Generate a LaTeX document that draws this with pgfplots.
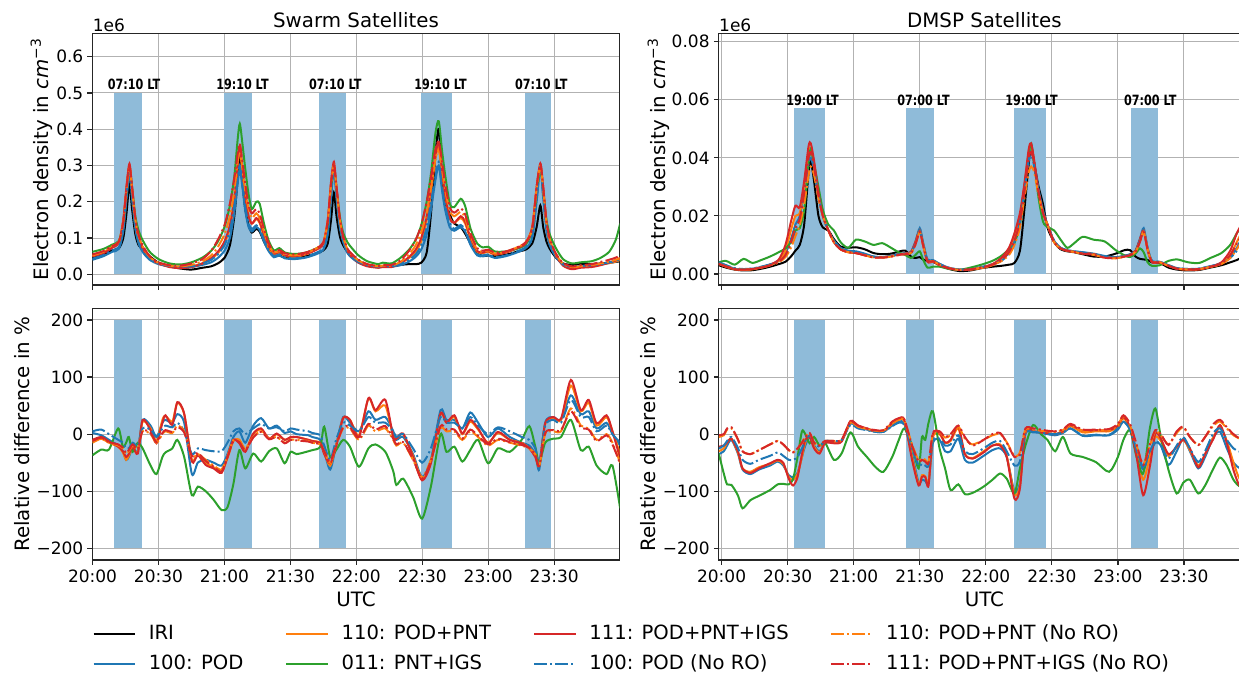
\documentclass[border=0pt]{standalone}
\usepackage{fontspec}
\setmainfont{DejaVu Sans}
\usepackage{graphicx}
\usepackage{pgfplots}
\usepackage{pgfplotstable}
\pgfplotsset{compat=1.18}
\definecolor{c0}{HTML}{1F77B4}
\definecolor{c1}{HTML}{FF7F0E}
\definecolor{c2}{HTML}{2CA02C}
\definecolor{c3}{HTML}{D62728}
\definecolor{barc}{HTML}{8FBBD9}
\tikzset{
  dd/.style={dash pattern=on 6.4pt off 1.6pt on 1pt off 1.6pt},
  ciri/.style={black, line width=1pt},
  cpod/.style={c0, line width=1pt},
  cpp/.style={c1, line width=1pt},
  cpi/.style={c2, line width=1pt},
  cppi/.style={c3, line width=1pt},
  cpodn/.style={c0, line width=1pt, dd},
  cppn/.style={c1, line width=1pt, dd},
  cppin/.style={c3, line width=1pt, dd},
  lt/.style={font=\fontsize{7.07}{8}\selectfont\bfseries, anchor=base, inner sep=0pt, yshift=1.7pt},
  offs/.style={anchor=base west, inner sep=0pt, yshift=0.9pt, font=\fontsize{8.5}{10}\selectfont},
}

\pgfplotstableread{
t     iri    pod    pp     pi     ppi    podn   ppn    ppin
0     0.045  0.040  0.050  0.062  0.050  0.043  0.052  0.055
5     0.056  0.050  0.060  0.070  0.058  0.053  0.062  0.064
9     0.066  0.062  0.078  0.082  0.073  0.066  0.078  0.078
12    0.072  0.070  0.090  0.092  0.088  0.074  0.090  0.090
14    0.100  0.120  0.150  0.140  0.150  0.125  0.145  0.145
15.5  0.170  0.210  0.240  0.230  0.245  0.215  0.235  0.240
16.8  0.250  0.280  0.300  0.290  0.305  0.285  0.295  0.300
18    0.180  0.210  0.235  0.240  0.240  0.215  0.235  0.240
19.5  0.110  0.125  0.145  0.160  0.145  0.130  0.150  0.155
21    0.080  0.085  0.100  0.120  0.100  0.088  0.105  0.108
23    0.068  0.060  0.072  0.092  0.070  0.062  0.075  0.078
26    0.050  0.040  0.046  0.062  0.046  0.042  0.048  0.050
30    0.032  0.028  0.030  0.042  0.030  0.029  0.032  0.033
35    0.022  0.022  0.023  0.030  0.020  0.023  0.024  0.025
40    0.016  0.020  0.020  0.027  0.017  0.021  0.022  0.024
45    0.013  0.020  0.022  0.033  0.020  0.022  0.026  0.030
50    0.018  0.026  0.030  0.046  0.030  0.030  0.036  0.042
54    0.022  0.033  0.042  0.065  0.045  0.040  0.052  0.065
57    0.030  0.045  0.058  0.090  0.062  0.055  0.075  0.095
60    0.045  0.065  0.085  0.130  0.090  0.080  0.110  0.135
62.5  0.080  0.100  0.130  0.190  0.135  0.120  0.160  0.195
64.5  0.160  0.170  0.210  0.270  0.210  0.190  0.230  0.265
66    0.260  0.250  0.300  0.370  0.300  0.260  0.310  0.330
67    0.320  0.290  0.350  0.415  0.355  0.300  0.340  0.360
68.2  0.250  0.240  0.290  0.360  0.290  0.250  0.290  0.310
69.5  0.180  0.175  0.215  0.290  0.215  0.185  0.230  0.250
71    0.135  0.130  0.160  0.220  0.160  0.140  0.180  0.190
72.5  0.115  0.118  0.140  0.180  0.140  0.125  0.155  0.168
74.5  0.125  0.130  0.152  0.200  0.155  0.135  0.168  0.180
76    0.118  0.122  0.142  0.195  0.145  0.126  0.155  0.168
78    0.090  0.090  0.105  0.140  0.110  0.095  0.118  0.125
80    0.068  0.065  0.075  0.095  0.080  0.068  0.082  0.088
82.5  0.052  0.047  0.055  0.066  0.057  0.050  0.060  0.063
85    0.052  0.052  0.060  0.072  0.062  0.055  0.064  0.067
87.5  0.046  0.044  0.051  0.060  0.052  0.046  0.055  0.058
92    0.044  0.042  0.048  0.056  0.050  0.044  0.052  0.055
97    0.050  0.046  0.055  0.060  0.056  0.048  0.058  0.060
102   0.058  0.056  0.070  0.072  0.068  0.060  0.072  0.072
105   0.066  0.068  0.088  0.085  0.085  0.072  0.088  0.088
107   0.085  0.110  0.150  0.135  0.150  0.115  0.145  0.145
108.5 0.150  0.210  0.250  0.240  0.255  0.215  0.245  0.250
109.8 0.225  0.290  0.300  0.290  0.310  0.295  0.300  0.300
111   0.160  0.210  0.235  0.235  0.240  0.215  0.235  0.240
112.5 0.105  0.130  0.150  0.160  0.150  0.135  0.150  0.155
114   0.080  0.090  0.100  0.115  0.100  0.092  0.104  0.106
116   0.062  0.058  0.066  0.088  0.064  0.060  0.068  0.070
118   0.052  0.045  0.052  0.072  0.048  0.047  0.054  0.056
121   0.038  0.032  0.036  0.052  0.032  0.034  0.038  0.040
125   0.025  0.024  0.025  0.036  0.022  0.025  0.027  0.028
130   0.019  0.020  0.020  0.028  0.018  0.021  0.022  0.023
132   0.021  0.022  0.022  0.032  0.020  0.023  0.024  0.025
136   0.022  0.021  0.022  0.030  0.020  0.022  0.024  0.026
140   0.026  0.025  0.030  0.045  0.030  0.028  0.034  0.038
144   0.028  0.035  0.045  0.068  0.048  0.040  0.055  0.065
147   0.028  0.048  0.062  0.095  0.068  0.055  0.080  0.095
149.5 0.032  0.068  0.090  0.135  0.100  0.080  0.115  0.135
152   0.060  0.110  0.150  0.200  0.160  0.130  0.170  0.200
154   0.170  0.180  0.230  0.280  0.240  0.200  0.240  0.270
156   0.330  0.260  0.320  0.390  0.330  0.270  0.320  0.345
157.5 0.400  0.300  0.350  0.422  0.365  0.310  0.340  0.365
159   0.270  0.230  0.280  0.340  0.285  0.240  0.290  0.310
160.5 0.200  0.175  0.210  0.270  0.215  0.185  0.230  0.245
162.5 0.165  0.130  0.155  0.195  0.155  0.140  0.175  0.185
164.5 0.140  0.120  0.142  0.185  0.142  0.125  0.160  0.170
167.5 0.130  0.130  0.155  0.208  0.160  0.136  0.172  0.182
169.5 0.112  0.118  0.140  0.188  0.145  0.122  0.155  0.165
172   0.085  0.080  0.095  0.125  0.100  0.084  0.105  0.112
175   0.060  0.052  0.062  0.085  0.064  0.055  0.068  0.072
177.5 0.050  0.050  0.058  0.074  0.060  0.052  0.062  0.065
180   0.052  0.052  0.062  0.076  0.064  0.055  0.066  0.068
183   0.050  0.045  0.054  0.063  0.055  0.047  0.057  0.060
188   0.054  0.050  0.060  0.063  0.060  0.052  0.062  0.063
193   0.062  0.060  0.072  0.070  0.072  0.063  0.074  0.074
197   0.068  0.072  0.088  0.082  0.085  0.075  0.088  0.088
200   0.085  0.100  0.130  0.120  0.130  0.105  0.125  0.125
202   0.130  0.200  0.240  0.220  0.240  0.205  0.235  0.240
203.7 0.190  0.295  0.300  0.290  0.305  0.295  0.300  0.305
205   0.130  0.210  0.235  0.230  0.240  0.215  0.235  0.240
206.5 0.090  0.120  0.140  0.150  0.140  0.125  0.140  0.145
208   0.070  0.080  0.092  0.110  0.092  0.082  0.095  0.098
210.5 0.048  0.050  0.056  0.075  0.055  0.052  0.058  0.060
214   0.030  0.026  0.027  0.042  0.024  0.027  0.029  0.031
218   0.026  0.020  0.018  0.030  0.014  0.021  0.020  0.022
222   0.028  0.022  0.020  0.033  0.018  0.023  0.022  0.025
227   0.028  0.024  0.024  0.036  0.020  0.025  0.026  0.028
231   0.030  0.027  0.027  0.045  0.025  0.028  0.030  0.034
235   0.032  0.031  0.031  0.062  0.032  0.033  0.035  0.040
238   0.034  0.035  0.035  0.095  0.038  0.037  0.040  0.046
240   0.036  0.040  0.040  0.140  0.045  0.042  0.045  0.052
}\TL

\pgfplotstableread{
t     iri     pod     pp      pi      ppi     podn    ppn     ppin
-1.3  0.0030  0.0040  0.0035  0.0040  0.0035  0.0040  0.0035  0.0035
2     0.0022  0.0030  0.0025  0.0045  0.0025  0.0030  0.0026  0.0026
6     0.0015  0.0018  0.0016  0.0032  0.0016  0.0020  0.0017  0.0017
10    0.0012  0.0016  0.0014  0.0052  0.0014  0.0017  0.0015  0.0015
14    0.0013  0.0018  0.0016  0.0038  0.0017  0.0019  0.0017  0.0017
18    0.0018  0.0024  0.0022  0.0048  0.0023  0.0025  0.0022  0.0022
22    0.0025  0.0032  0.0030  0.0060  0.0032  0.0033  0.0030  0.0030
26    0.0034  0.0045  0.0045  0.0075  0.0050  0.0042  0.0040  0.0042
29    0.0042  0.0070  0.0080  0.0088  0.0100  0.0060  0.0058  0.0065
31.5  0.0060  0.0120  0.0150  0.0110  0.0180  0.0100  0.0090  0.0110
33.5  0.0080  0.0170  0.0200  0.0150  0.0235  0.0150  0.0130  0.0160
35.5  0.0100  0.0200  0.0210  0.0158  0.0230  0.0190  0.0170  0.0190
37.5  0.0170  0.0290  0.0300  0.0220  0.0320  0.0270  0.0240  0.0280
39.5  0.0350  0.0400  0.0420  0.0380  0.0440  0.0380  0.0340  0.0400
40.5  0.0390  0.0420  0.0430  0.0430  0.0450  0.0400  0.0370  0.0420
42    0.0320  0.0370  0.0370  0.0380  0.0390  0.0360  0.0340  0.0370
44    0.0200  0.0270  0.0270  0.0300  0.0280  0.0270  0.0260  0.0270
46    0.0160  0.0200  0.0200  0.0220  0.0200  0.0200  0.0200  0.0200
48.5  0.0150  0.0150  0.0150  0.0170  0.0150  0.0150  0.0150  0.0150
51    0.0120  0.0115  0.0110  0.0150  0.0110  0.0115  0.0110  0.0110
54    0.0095  0.0090  0.0085  0.0110  0.0085  0.0090  0.0085  0.0085
57.5  0.0090  0.0080  0.0075  0.0090  0.0075  0.0080  0.0075  0.0075
61    0.0092  0.0078  0.0072  0.0118  0.0072  0.0076  0.0072  0.0072
65    0.0085  0.0070  0.0065  0.0112  0.0065  0.0068  0.0064  0.0064
69    0.0072  0.0060  0.0058  0.0100  0.0058  0.0060  0.0057  0.0057
73    0.0068  0.0058  0.0057  0.0106  0.0057  0.0058  0.0056  0.0056
77    0.0070  0.0063  0.0062  0.0090  0.0062  0.0062  0.0060  0.0060
81    0.0078  0.0070  0.0068  0.0072  0.0068  0.0068  0.0066  0.0066
83.5  0.0080  0.0072  0.0070  0.0065  0.0070  0.0070  0.0068  0.0068
86    0.0060  0.0075  0.0074  0.0055  0.0076  0.0073  0.0072  0.0072
88    0.0055  0.0110  0.0105  0.0065  0.0110  0.0105  0.0100  0.0100
90    0.0058  0.0158  0.0150  0.0078  0.0150  0.0150  0.0145  0.0145
91.5  0.0050  0.0110  0.0105  0.0050  0.0100  0.0105  0.0100  0.0100
93.5  0.0045  0.0050  0.0045  0.0022  0.0042  0.0048  0.0045  0.0045
96    0.0042  0.0048  0.0045  0.0025  0.0042  0.0046  0.0044  0.0044
99    0.0030  0.0035  0.0032  0.0025  0.0030  0.0034  0.0032  0.0032
103   0.0018  0.0022  0.0020  0.0018  0.0020  0.0022  0.0020  0.0020
108   0.0010  0.0015  0.0014  0.0014  0.0014  0.0015  0.0014  0.0014
113   0.0012  0.0016  0.0015  0.0022  0.0015  0.0017  0.0016  0.0016
118   0.0020  0.0022  0.0020  0.0032  0.0022  0.0024  0.0022  0.0022
123   0.0025  0.0032  0.0030  0.0045  0.0034  0.0034  0.0032  0.0032
127   0.0028  0.0045  0.0048  0.0062  0.0055  0.0045  0.0044  0.0048
130.5 0.0032  0.0075  0.0080  0.0085  0.0090  0.0070  0.0065  0.0075
133   0.0038  0.0120  0.0130  0.0106  0.0140  0.0110  0.0100  0.0115
135.5 0.0080  0.0190  0.0200  0.0170  0.0210  0.0180  0.0160  0.0180
137.5 0.0220  0.0300  0.0300  0.0280  0.0310  0.0280  0.0260  0.0280
139.5 0.0380  0.0410  0.0420  0.0410  0.0430  0.0390  0.0350  0.0400
140.6 0.0440  0.0430  0.0440  0.0450  0.0450  0.0410  0.0370  0.0420
142   0.0380  0.0380  0.0380  0.0380  0.0390  0.0370  0.0350  0.0380
144   0.0300  0.0290  0.0280  0.0260  0.0280  0.0280  0.0270  0.0280
146   0.0240  0.0220  0.0210  0.0180  0.0210  0.0210  0.0210  0.0210
148   0.0160  0.0170  0.0170  0.0162  0.0170  0.0170  0.0170  0.0170
151   0.0110  0.0115  0.0110  0.0150  0.0110  0.0115  0.0110  0.0110
154   0.0085  0.0090  0.0088  0.0118  0.0088  0.0090  0.0088  0.0088
157   0.0078  0.0082  0.0080  0.0090  0.0080  0.0082  0.0080  0.0080
160   0.0075  0.0078  0.0076  0.0105  0.0076  0.0078  0.0076  0.0076
164   0.0068  0.0075  0.0072  0.0128  0.0072  0.0074  0.0070  0.0070
169   0.0060  0.0070  0.0068  0.0118  0.0068  0.0068  0.0066  0.0066
174   0.0060  0.0062  0.0058  0.0112  0.0058  0.0060  0.0056  0.0056
179   0.0070  0.0058  0.0055  0.0082  0.0055  0.0056  0.0054  0.0054
183   0.0082  0.0063  0.0060  0.0064  0.0062  0.0062  0.0060  0.0060
185.5 0.0082  0.0068  0.0065  0.0058  0.0066  0.0066  0.0064  0.0064
188   0.0060  0.0080  0.0078  0.0070  0.0080  0.0078  0.0076  0.0076
190   0.0052  0.0120  0.0115  0.0088  0.0120  0.0115  0.0110  0.0110
191.7 0.0050  0.0158  0.0150  0.0075  0.0150  0.0150  0.0145  0.0145
193.5 0.0048  0.0090  0.0085  0.0040  0.0082  0.0088  0.0085  0.0085
195.5 0.0040  0.0045  0.0042  0.0028  0.0040  0.0044  0.0042  0.0042
199   0.0038  0.0042  0.0040  0.0030  0.0040  0.0042  0.0040  0.0040
203   0.0022  0.0030  0.0028  0.0045  0.0028  0.0030  0.0028  0.0028
207   0.0015  0.0020  0.0018  0.0050  0.0018  0.0020  0.0018  0.0018
212   0.0012  0.0017  0.0015  0.0040  0.0015  0.0017  0.0016  0.0016
217   0.0014  0.0018  0.0016  0.0038  0.0016  0.0019  0.0017  0.0017
222   0.0022  0.0026  0.0024  0.0055  0.0025  0.0027  0.0025  0.0025
227   0.0030  0.0038  0.0035  0.0072  0.0040  0.0036  0.0034  0.0036
231   0.0040  0.0060  0.0065  0.0100  0.0080  0.0055  0.0055  0.0065
234   0.0048  0.0090  0.0110  0.0140  0.0140  0.0080  0.0085  0.0105
236   0.0056  0.0120  0.0140  0.0160  0.0170  0.0110  0.0110  0.0130
240   0.0070  0.0170  0.0200  0.0190  0.0240  0.0160  0.0160  0.0190
}\TR

\pgfplotstableread{
t     pod   pp    pi    ppi   podn  ppn   ppin
0     2     -12   -37   -10   5     -15   -12
4     -2    -8    -27   -5    8     -8    -6
7.5   -10   -15   -27   -13   0     -15   -14
11.7  -20   -22   10    -22   -10   -20   -18
13.8  -30   -32   -22   -30   -15   -25   -24
15.3  -45   -45   -15   -40   -25   -35   -33
16.5  -40   -38   -5    -35   -25   -30   -28
18.3  -25   -25   -31   -22   -15   -20   -18
20.6  -30   -32   -15   -34   -20   -25   -26
22.8  25    22    -25   25    10    5     6
26.4  15    10    -55   7     8     0     2
29.1  -5    -12   -70   -16   -5    -15   -14
31.8  20    25    -40   20    10    0     2
33.2  25    32    -32   33    15    5     7
36.3  20    22    -25   16    12    2     4
38.6  35    55    -10   56    20    15    12
41.7  20    35    -40   36    5     5     3
45.2  -70   -45   -107  -48   -35   -40   -38
47.9  -50   -35   -92   -37   -25   -35   -33
51.5  -45   -50   -100  -54   -28   -45   -47
55.1  -50   -58   -115  -60   -30   -55   -57
58.7  -55   -65   -133  -68   -30   -62   -66
61.4  -35   -42   -128  -40   -15   -38   -40
64.1  -5    -12   -87   -10   5     -10   -12
66.8  5     -10   -28   -16   10    -10   -14
69.5  -15   -28   -60   -31   0     -25   -28
73.1  15    0     -34   1     10    -5    -6
76.7  28    8     -48   10    18    5     4
80.3  10    -8    -30   -8    10    -8    -9
83.8  15    0     -25   1     12    -5    -5
87.4  2     -10   -51   -10   5     -15   -16
90.1  5     -6    -31   -5    10    -10   -10
92.8  0     -5    -35   -5    8     -10   -11
98.2  -2    -10   -30   -10   5     -12   -13
100   -5    -12   -28   -12   2     -15   -15
103.6 -10   -15   -22   -16   -2    -18   -18
105.4 -30   -32   13    -35   -20   -30   -30
108.1 -62   -55   -40   -51   -45   -50   -48
110.8 -20   -20   -28   -22   -10   -20   -20
114   30    28    -10   28    20    10    12
117.1 20    25    -22   25    15    10    12
121.2 5     -2    -57   -5    5     -10   -8
125.5 40    62    -25   63    30    15    18
128.7 25    40    -18   42    20    5     8
133.2 30    50    -31   60    20    10    14
136.8 5     -5    -65   -5    5     -10   -8
138.2 -10   -8    -89   -8    -5    -20   -18
141.3 -5    0     -78   1     0     -15   -14
145.8 -35   -38   -110  -40   -25   -45   -44
149.9 -75   -78   -148  -81   -50   -75   -78
153.9 -45   -50   -92   -51   -25   -45   -47
158.3 42    35    0     36    30    10    14
161   25    20    -31   20    20    5     8
164.6 25    30    -22   33    20    5     8
168.2 10    0     -48   1     10    -10   -8
171.8 38    22    -28   25    30    5     8
175.4 20    8     -10   10    15    -5    -3
179.9 -5    -15   -51   -16   0     -20   -18
184.4 10    2     -25   4     12    -10   -8
189.8 -5    -10   -31   -10   5     -15   -14
195.2 -15   -15   -10   -16   -5    -20   -19
198.7 -20   -25   14    -25   -10   -25   -24
201.4 -35   -38   -22   -40   -25   -35   -36
203.2 -62   -55   -51   -54   -50   -55   -56
205.9 20    18    -15   19    15    0     2
209.5 30    28    -8    30    25    5     7
213.1 25    25    -5    27    20    5     7
217.6 68    85    25    95    60    45    40
222.1 35    40    -28   42    30    15    12
225.7 40    55    -22   60    30    10    8
229.3 10    15    -55   19    5     -10   -12
233.8 20    30    -70   33    15    0     -2
236.5 0     5     -55   5     0     -15   -18
240   -20   -35   -130  -43   -15   -50   -52
}\BL

\pgfplotstableread{
t     pod   pp    pi    ppi   podn  ppn   ppin
-1.3  -35   -30   -34   -22   -25   -5    -2
1     -30   -25   -69   -20   -20   -2    0
2.5   -20   -15   -88   -15   -12   8     10
4.5   -10   -8    -89   -8    -5    10    12
7.5   -35   -33   -108  -31   -25   -10   -10
9.5   -62   -60   -130  -60   -45   -30   -30
13    -70   -66   -116  -68   -52   -35   -35
17    -62   -58   -108  -60   -45   -28   -28
22    -55   -52   -98   -51   -38   -18   -18
25.5  -48   -46   -88   -45   -32   -12   -12
28    -55   -52   -87   -50   -38   -18   -18
30.5  -72   -75   -88   -78   -45   -28   -28
32.5  -75   -80   -78   -90   -45   -32   -32
34.5  -68   -70   -40   -75   -40   -25   -25
36.5  -40   -40   5     -35   -25   -15   -15
38    -20   -15   0     -10   -12   -5    -5
40    -5    -3    -16   -5    -2    2     2
42    -20   -22   -5    -25   -15   -15   -15
44.5  -30   -32   -20   -34   -22   -20   -20
47    -15   -15   -15   -15   -12   -12   -12
51    -15   -15   -45   -16   -12   -12   -12
54.5  -12   -12   -34   -13   -10   -10   -10
58.5  18    20    3     23    16    20    22
62    12    13    -22   15    10    13    15
66    8     9     -40   10    7     9     10
70    4     5     -58   5     4     6     7
73.5  4     5     -66   5     4     6     7
77.5  15    18    -40   20    14    20    22
80.5  22    25    -10   27    20    26    28
83    18    22    10    25    16    24    26
86.5  -35   -40   -20   -45   -25   -18   -20
89.5  -85   -88   -60   -90   -55   -46   -48
91    -80   -72   -5    -75   -52   -42   -45
92.5  -82   -74   -10   -75   -55   -45   -48
94    -85   -85   20    -90   -55   -48   -50
96    -15   -5    40    0     -10   0     2
99    -10   0     -25   2     -8    3     5
101.5 -30   -15   -60   -15   -20   -6    -5
104   -30   -12   -98   -10   -18   -2    0
107.5 -8    10    -88   14    -2    13    15
110.5 -45   -35   -105  -35   -30   -8    -5
114   -50   -42   -103  -43   -35   -18   -20
119   -38   -30   -92   -32   -25   -10   -10
123   -28   -20   -80   -20   -15   -2    0
126.5 -25   -18   -69   -20   -12   0     2
129.5 -40   -38   -78   -40   -30   -14   -15
133   -100  -105  -104  -113  -55   -38   -40
135.5 -85   -90   -60   -95   -48   -32   -35
138   0     3     -20   5     2     8     10
141.5 3     5     16    5     4     8     10
145   2     3     0     3     3     6     8
148   0     2     -10   2     1     5     6
151.5 -2    0     -30   0     0     4     5
155   2     4     -5    5     3     7     8
158.5 10    14    -34   16    10    16    18
164   -3    3     -40   6     -2    6     8
170   -2    5     -49   7     -1    7     8
176   -2    5     -66   7     -1    7     9
180   8     13    -40   15    10    16    18
182.5 22    28    -10   30    22    32    33
185.5 8     10    7     12    8     15    18
188.5 -30   -35   -40   -40   -28   -20   -18
191.5 -62   -80   -69   -107  -57   -52   -54
194.5 -35   -40   10    -57   -30   -20   -18
197   -15   -5    45    1     -12   5     7
199.5 -20   -12   -5    -8    -20   -2    0
203   -54   -38   -63   -35   -43   -18   -19
206.7 -30   -22   -104  -22   -20   2     5
209.7 -8    -10   -85   -10   -5    12    13
212.7 -30   -28   -80   -25   -25   -5    -5
216.5 -60   -55   -104  -58   -49   -19   -19
219.6 -40   -35   -90   -35   -30   -5    -5
223.4 -5    -5    -60   -8    2     15    18
226.4 4     12    -41   16    10    22    25
229.5 -25   -12   -55   -16   -10   10    12
232.5 -50   -50   -80   -63   -25   -2    0
235.5 -60   -80   -92   -92   -31   -8    -8
240   -65   -90   -95   -100  -35   -12   -12
}\BR

\pgfplotsset{
  panel/.style={
    scale only axis, clip mode=individual, scaled ticks=false,
    grid=major, major grid style={line width=0.5pt, color=black!30},
    axis line style={line width=0.6pt, black!85},
    tick style={line width=0.6pt, black!85},
    major tick length=2.5pt, tick align=outside, tick pos=left,
    xtick={0,30,60,90,120,150,180,210},
    tick label style={font=\fontsize{8.5}{10}\selectfont},
    xticklabel style={inner sep=0pt, yshift=-2.2pt},
    yticklabel style={inner sep=0pt, xshift=-1.9pt},
    label style={font=\fontsize{9.9}{12}\selectfont},
    title style={font=\fontsize{9.9}{12}\selectfont, at={(0.5,1)}, anchor=base, yshift=-3.1pt},
    height=125.85pt,
  },
  toppanel/.style={panel, xticklabels={}},
  botpanel/.style={panel, xlabel={UTC},
    xticklabels={20:00,20:30,21:00,21:30,22:00,22:30,23:00,23:30},
    xlabel style={at={(axis description cs:0.5,-0.155)}, anchor=center},
    ymin=-220.5, ymax=220.5, ytick={-200,-100,0,100,200},
    yticklabels={−200,−100,0,100,200},
    ylabel={Relative difference in \%}},
  leftp/.style={width=263.5pt, xmin=0, xmax=239.7},
  rightp/.style={width=265.6pt, xmin=-1.27, xmax=240},
  bar/.style={fill=barc, draw=none, forget plot},
}

\newcommand{\curves}[2]{%
  \ifnum#2=1 \addplot[ciri, smooth, tension=0.45, forget plot] table[x=t,y=iri]{#1};\fi
  \addplot[cpod, smooth, tension=0.45, forget plot] table[x=t,y=pod]{#1};
  \addplot[cpp, smooth, tension=0.45, forget plot] table[x=t,y=pp]{#1};
  \addplot[cpi, smooth, tension=0.45, forget plot] table[x=t,y=pi]{#1};
  \addplot[cppi, smooth, tension=0.45, forget plot] table[x=t,y=ppi]{#1};
  \addplot[cpodn, smooth, tension=0.45, forget plot] table[x=t,y=podn]{#1};
  \addplot[cppn, smooth, tension=0.45, forget plot] table[x=t,y=ppn]{#1};
  \addplot[cppin, smooth, tension=0.45, forget plot] table[x=t,y=ppin]{#1};
}
\newcommand{\lbox}[2]{\hspace*{6.3pt}\makebox[#1][l]{#2}}

\begin{document}
\begin{tikzpicture}
\useasboundingbox (0,0) rectangle (619.5pt,337pt);

% ---------------- top left
\begin{axis}[toppanel, leftp, at={(46.25pt,194.5pt)}, anchor=south west,
  title={Swarm Satellites},
  ymin=-0.0295, ymax=0.6645, ytick={0,0.1,0.2,0.3,0.4,0.5,0.6},
  yticklabels={0.0,0.1,0.2,0.3,0.4,0.5,0.6},
  ylabel={Electron density in \textit{cm}\textsuperscript{−3}},
  ylabel style={at={(axis description cs:-0.097,0.5)}, anchor=center}]
\addplot[bar] coordinates {(10.0,0) (22.6,0) (22.6,0.5) (10.0,0.5)} --cycle;
\addplot[bar] coordinates {(59.7,0) (72.5,0) (72.5,0.5) (59.7,0.5)} --cycle;
\addplot[bar] coordinates {(103.0,0) (115.4,0) (115.4,0.5) (103.0,0.5)} --cycle;
\addplot[bar] coordinates {(149.5,0) (163.7,0) (163.7,0.5) (149.5,0.5)} --cycle;
\addplot[bar] coordinates {(196.7,0) (208.4,0) (208.4,0.5) (196.7,0.5)} --cycle;
\curves{\TL}{1}
\node[lt] at (axis cs:18.9,0.5) {\scalebox{0.79}[1]{07:10 LT}};
\node[lt] at (axis cs:68.2,0.5) {\scalebox{0.79}[1]{19:10 LT}};
\node[lt] at (axis cs:110.4,0.5) {\scalebox{0.79}[1]{07:10 LT}};
\node[lt] at (axis cs:158.3,0.5) {\scalebox{0.79}[1]{19:10 LT}};
\node[lt] at (axis cs:204.1,0.5) {\scalebox{0.79}[1]{07:10 LT}};
\node[offs] at (rel axis cs:0,1) {1e6};
\end{axis}

% ---------------- top right
\begin{axis}[toppanel, rightp, at={(359.4pt,194.5pt)}, anchor=south west,
  title={DMSP Satellites},
  ymin=-0.0038, ymax=0.0829, ytick={0,0.02,0.04,0.06,0.08},
  yticklabels={0.00,0.02,0.04,0.06,0.08},
  ylabel={Electron density in \textit{cm}\textsuperscript{−3}},
  ylabel style={at={(axis description cs:-0.1137,0.5)}, anchor=center}]
\addplot[bar] coordinates {(32.9,0) (47.1,0) (47.1,0.057) (32.9,0.057)} --cycle;
\addplot[bar] coordinates {(83.7,0) (96.6,0) (96.6,0.057) (83.7,0.057)} --cycle;
\addplot[bar] coordinates {(132.8,0) (147.5,0) (147.5,0.057) (132.8,0.057)} --cycle;
\addplot[bar] coordinates {(185.9,0) (198.2,0) (198.2,0.057) (185.9,0.057)} --cycle;
\curves{\TR}{1}
\node[lt] at (axis cs:41.3,0.057) {\scalebox{0.79}[1]{19:00 LT}};
\node[lt] at (axis cs:91.7,0.057) {\scalebox{0.79}[1]{07:00 LT}};
\node[lt] at (axis cs:140.8,0.057) {\scalebox{0.79}[1]{19:00 LT}};
\node[lt] at (axis cs:194.7,0.057) {\scalebox{0.79}[1]{07:00 LT}};
\node[offs] at (rel axis cs:0,1) {1e6};
\end{axis}

% ---------------- bottom left
\begin{axis}[botpanel, leftp, at={(46.25pt,57pt)}, anchor=south west,
  ylabel style={at={(axis description cs:-0.134,0.5)}, anchor=center},
  legend columns=4,
  legend image code/.code={\draw[#1] (0pt,0pt) -- (20.8pt,0pt);},
  legend style={draw=none, fill=none, at={(-0.012,-0.240)}, anchor=north west,
    font=\fontsize{9.8}{11}\selectfont, legend cell align=left,
    nodes={inner sep=0pt, text height=7.3pt, text depth=2pt},
    /tikz/every even column/.append style={column sep=0pt},
    /tikz/row sep=5.8pt}]
\addplot[bar] coordinates {(10.0,-200) (22.6,-200) (22.6,200) (10.0,200)} --cycle;
\addplot[bar] coordinates {(59.7,-200) (72.5,-200) (72.5,200) (59.7,200)} --cycle;
\addplot[bar] coordinates {(103.0,-200) (115.4,-200) (115.4,200) (103.0,200)} --cycle;
\addplot[bar] coordinates {(149.5,-200) (163.7,-200) (163.7,200) (149.5,200)} --cycle;
\addplot[bar] coordinates {(196.7,-200) (208.4,-200) (208.4,200) (196.7,200)} --cycle;
\curves{\BL}{0}
\addlegendimage{ciri}\addlegendentry{\lbox{68.3pt}{IRI}}
\addlegendimage{cpp}\addlegendentry{\lbox{95.8pt}{110: POD+PNT}}
\addlegendimage{cppi}\addlegendentry{\lbox{120.3pt}{111: POD+PNT+IGS}}
\addlegendimage{cppn}\addlegendentry{\hspace*{6.3pt}110: POD+PNT (No RO)}
\addlegendimage{cpod}\addlegendentry{\lbox{68.3pt}{100: POD}}
\addlegendimage{cpi}\addlegendentry{\lbox{95.8pt}{011: PNT+IGS}}
\addlegendimage{cpodn}\addlegendentry{\lbox{120.3pt}{100: POD (No RO)}}
\addlegendimage{cppin}\addlegendentry{\hspace*{6.3pt}111: POD+PNT+IGS (No RO)}
\end{axis}

% ---------------- bottom right
\begin{axis}[botpanel, rightp, at={(359.4pt,57pt)}, anchor=south west,
  ylabel style={at={(axis description cs:-0.134,0.5)}, anchor=center}]
\addplot[bar] coordinates {(32.9,-200) (47.1,-200) (47.1,200) (32.9,200)} --cycle;
\addplot[bar] coordinates {(83.7,-200) (96.6,-200) (96.6,200) (83.7,200)} --cycle;
\addplot[bar] coordinates {(132.8,-200) (147.5,-200) (147.5,200) (132.8,200)} --cycle;
\addplot[bar] coordinates {(185.9,-200) (198.2,-200) (198.2,200) (185.9,200)} --cycle;
\curves{\BR}{0}
\end{axis}
\end{tikzpicture}
\end{document}
